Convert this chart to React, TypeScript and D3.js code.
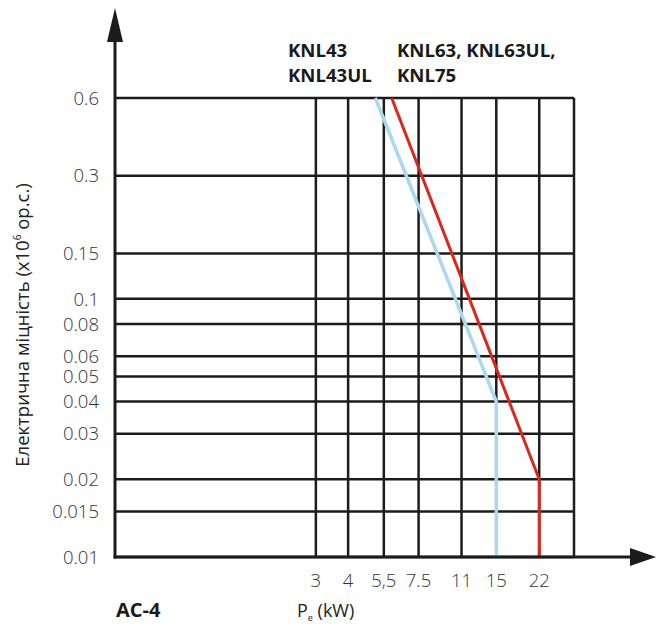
import React from "react";
import * as d3 from "d3";

const yTicks = [0.6, 0.3, 0.15, 0.1, 0.08, 0.06, 0.05, 0.04, 0.03, 0.02, 0.015, 0.01];
const yTickLabels = ["0.6", "0.3", "0.15", "0.1", "0.08", "0.06", "0.05", "0.04", "0.03", "0.02", "0.015", "0.01"];
const xTicks = [3, 4, 5.5, 7.5, 11, 15, 22];
const xTickLabels = ["3", "4", "5,5", "7.5", "11", "15", "22"];
const knl43Series = [
  { p: 5.1, v: 0.6 },
  { p: 15, v: 0.04 },
  { p: 15, v: 0.01 },
];
const knl63Series = [
  { p: 5.9, v: 0.6 },
  { p: 22, v: 0.02 },
  { p: 22, v: 0.01 },
];
const xDomain = [0.5, 30];
const yDomain = [0.01, 0.6];

export default function App() {
  const left = 115, right = 574, top = 98, bottom = 557;
  const x = d3.scaleLog().domain(xDomain).range([left, right]);
  const y = d3.scaleLog().domain(yDomain).range([bottom, top]);
  const line = d3
    .line<{ p: number; v: number }>()
    .x((d) => x(d.p))
    .y((d) => y(d.v));
  const grid = "#1c1c1c";
  const font = "'Open Sans', sans-serif";
  return (
    <svg
      width={656}
      height={626}
      style={{ position: "absolute", left: 0, top: 0, background: "#fff" }}
      fontFamily={font}
    >
      {yTicks.map((t) => (
        <line key={"h" + t} x1={left} x2={right} y1={y(t)} y2={y(t)} stroke={grid} strokeWidth={2.5} />
      ))}
      {xTicks.map((t) => (
        <line key={"v" + t} x1={x(t)} x2={x(t)} y1={top} y2={bottom} stroke={grid} strokeWidth={2.5} />
      ))}
      <line x1={right} x2={right} y1={top} y2={bottom} stroke={grid} strokeWidth={2.5} />
      <path d={line(knl43Series) || ""} fill="none" stroke="#a9d9ef" strokeWidth={3.5} />
      <path d={line(knl63Series) || ""} fill="none" stroke="#d9281c" strokeWidth={3} />
      <line x1={left} x2={left} y1={40} y2={bottom + 1.5} stroke={grid} strokeWidth={3} />
      <polygon points={`${left},8 ${left - 8},42 ${left + 8},42`} fill={grid} />
      <line x1={left - 1.5} x2={632} y1={bottom} y2={bottom} stroke={grid} strokeWidth={3} />
      <polygon points={`656,${bottom} 630,${bottom - 9} 630,${bottom + 9}`} fill={grid} />
      {yTicks.map((t, i) => (
        <text
          key={"yl" + t}
          x={99}
          y={y(t)}
          dy="0.36em"
          textAnchor="end"
          fontSize={18.5}
          fontWeight={300}
          fill="#333"
        >
          {yTickLabels[i]}
        </text>
      ))}
      {xTicks.map((t, i) => (
        <text key={"xl" + t} x={x(t)} y={587} textAnchor="middle" fontSize={18.5} fontWeight={300} fill="#333">
          {xTickLabels[i]}
        </text>
      ))}
      <text x={288} y={57} fontSize={18.6} fontWeight={700} fill="#1a1a1a">KNL43</text>
      <text x={288} y={82} fontSize={18.6} fontWeight={700} fill="#1a1a1a">KNL43UL</text>
      <text x={397} y={57} fontSize={18.6} fontWeight={700} fill="#1a1a1a">KNL63, KNL63UL,</text>
      <text x={397} y={82} fontSize={18.6} fontWeight={700} fill="#1a1a1a">KNL75</text>
      <text x={116} y={617} fontSize={20} fontWeight={700} fill="#1a1a1a">AC-4</text>
      <text x={297} y={617} fontSize={18} fontWeight={400} fill="#222">
        P<tspan fontSize={9} dy={4}>e</tspan>
        <tspan dy={-4}> (kW)</tspan>
      </text>
      <text
        transform={`translate(28.5,${325}) rotate(-90)`}
        textAnchor="middle"
        fontSize={18.5}
        fontWeight={400}
        fill="#222"
      >
        Електрична міцність (x10<tspan fontSize={10} dy={-8}>6</tspan>
        <tspan dy={8}> ор.с.)</tspan>
      </text>
    </svg>
  );
}
